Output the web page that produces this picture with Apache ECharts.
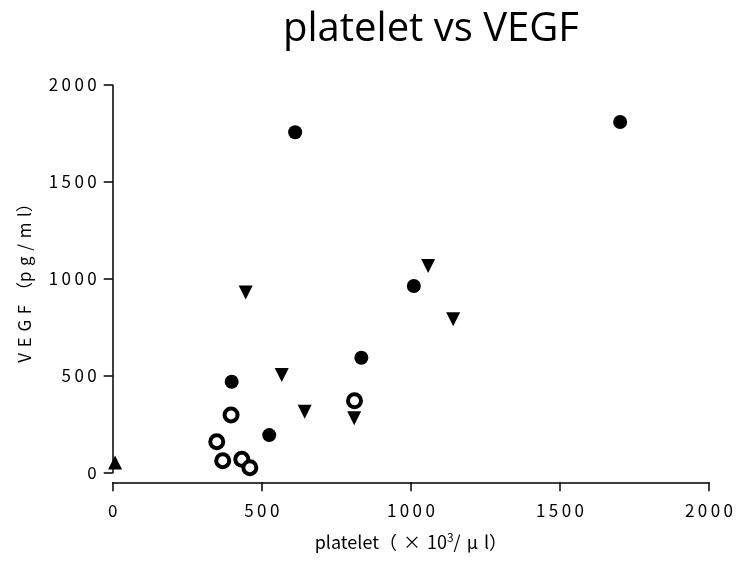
<!DOCTYPE html>
<html>
<head>
<meta charset="utf-8">
<script src="https://cdn.jsdelivr.net/npm/echarts@6/dist/echarts.min.js"></script>
<style>html,body{margin:0;padding:0;background:#fff}#c{width:736px;height:564px}</style>
</head>
<body>
<div id="c"></div>
<script>
const titleText = 'platelet vs VEGF';
const xName = 'platelet';
const xUnit = ['（\u2004×\u200410', '3', '/\u2004μ\u2004l）'];
const yName = 'V\u2004E\u2004G\u2004F\u2004（p\u2004g\u2004/\u2004m\u2004l）';
const xTicks = [0, 500, 1000, 1500, 2000];
const yTicks = [0, 500, 1000, 1500, 2000];
const filledCircle = [[612,1756],[1702,1809],[399,469],[834,593],[525,194],[1010,963]];
const openCircle = [[397,298],[349,160],[369,62],[433,69],[460,26],[811,371]];
const triangleDown = [[446,930],[567,504],[644,315],[810,281],[1058,1066],[1142,791]];
const triangleUp = [[8,53]];

const spaced = v => String(v).split('').join('\u2009');
const labelFont = {color:'#000', fontSize:17, fontFamily:'Noto Sans CJK JP'};

const chart = echarts.init(document.getElementById('c'), null, {renderer:'canvas'});
chart.setOption({
  animation:false,
  backgroundColor:'#fff',
  title:{text:titleText, left:426, top:5, textAlign:'center',
    textStyle:{fontFamily:'Open Sans', fontSize:40, fontWeight:'normal', color:'#000'}},
  grid:{left:112.7, right:27, top:85, bottom:91.3, containLabel:false},
  xAxis:{type:'value', min:xTicks[0], max:xTicks[xTicks.length-1], interval:500, offset:9.6,
    axisLine:{show:true, onZero:false, lineStyle:{color:'#000', width:1.5}},
    axisTick:{show:true, length:9, lineStyle:{color:'#000', width:1.5}},
    splitLine:{show:false},
    axisLabel:Object.assign({margin:20, formatter:spaced}, labelFont),
    name:'{a|' + xName + xUnit[0] + '}{s|' + xUnit[1] + '}{a|' + xUnit[2] + '}',
    nameLocation:'middle', nameGap:49,
    nameTextStyle:{rich:{
      a:{fontSize:18, fontFamily:'Noto Sans CJK JP', color:'#000'},
      s:{fontSize:12, fontFamily:'Noto Sans CJK JP', color:'#000', verticalAlign:'top', padding:[0,0,10,0]}
    }}
  },
  yAxis:{type:'value', min:yTicks[0], max:yTicks[yTicks.length-1], interval:500,
    axisLine:{show:true, onZero:false, lineStyle:{color:'#000', width:1.5}},
    axisTick:{show:true, length:9, lineStyle:{color:'#000', width:1.5}},
    splitLine:{show:false},
    axisLabel:Object.assign({margin:16, formatter:spaced}, labelFont),
    name:yName, nameLocation:'middle', nameGap:80, nameRotate:90,
    nameTextStyle:{fontSize:17, fontFamily:'Noto Sans CJK JP', color:'#000'}
  },
  series:[
    {type:'scatter', data:filledCircle, symbol:'circle', symbolSize:14, clip:false,
      itemStyle:{color:'#000', opacity:1}},
    {type:'scatter', data:openCircle, symbol:'circle', symbolSize:13, clip:false,
      itemStyle:{color:'#fff', borderColor:'#000', borderWidth:4, opacity:1}},
    {type:'scatter', data:triangleDown, symbol:'triangle', symbolSize:14, symbolRotate:180, clip:false,
      itemStyle:{color:'#000', opacity:1}},
    {type:'scatter', data:triangleUp, symbol:'triangle', symbolSize:14, clip:false,
      itemStyle:{color:'#000', opacity:1}}
  ]
});
</script>
</body>
</html>
